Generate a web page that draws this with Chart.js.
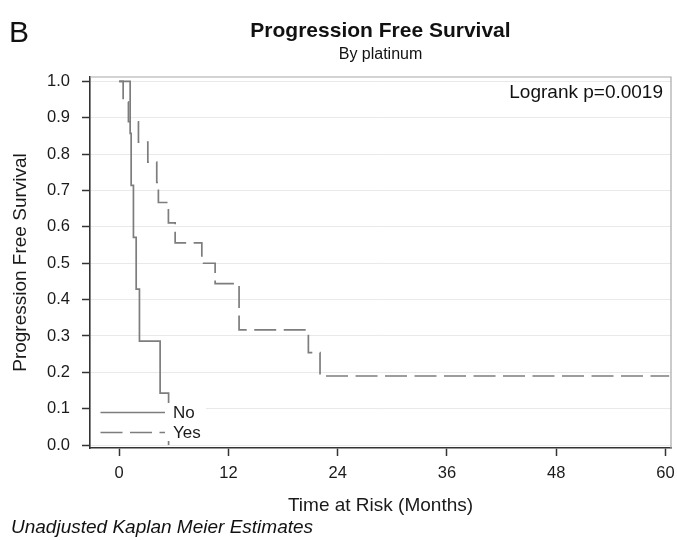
<!DOCTYPE html>
<html>
<head>
<meta charset="utf-8">
<title>Progression Free Survival</title>
<script src="https://cdn.jsdelivr.net/npm/chart.js@4.4.1/dist/chart.umd.min.js"></script>
<style>
  html, body { margin: 0; padding: 0; background: #fff; }
  #chart { display: block; }
</style>
</head>
<body>
<canvas id="chart" width="677" height="540"></canvas>
<script>
// Kaplan-Meier steps: time (months) and survival after each drop
const noTimes = [0, 1.21, 1.32, 1.57, 1.87, 2.23, 4.5, 5.43];
const noSurv = [1, 0.857, 0.714, 0.571, 0.429, 0.286, 0.143, 0];
const yesTimes = [0, 0.44, 1.02, 2.12, 3.15, 4.13, 4.31, 5.41, 6.15, 9.08, 10.54, 13.17, 20.78, 22.06, 60.4];
const yesSurv = [1, 0.944, 0.889, 0.833, 0.778, 0.722, 0.667, 0.611, 0.556, 0.5, 0.444, 0.317, 0.254, 0.19, 0.19];
const groupLabels = ['No', 'Yes'];
const xTicks = [0, 12, 24, 36, 48, 60];
const yTicks = [0, 0.1, 0.2, 0.3, 0.4, 0.5, 0.6, 0.7, 0.8, 0.9, 1.0];

const FONT = "'Liberation Sans', Arial, sans-serif";
const LINE = '#7d7d7d';

function toPoints(xs, ys) {
    return xs.map((x, i) => ({ x, y: ys[i] }));
}

// top and right sides of the plot frame
const framePlugin = {
    id: 'frame',
    beforeDatasetsDraw(chart) {
        const { ctx, chartArea: a } = chart;
        ctx.save();
        ctx.strokeStyle = '#a8a8a8';
        ctx.lineWidth = 1.2;
        ctx.beginPath();
        ctx.moveTo(a.left, a.top);
        ctx.lineTo(a.right, a.top);
        ctx.lineTo(a.right, a.bottom);
        ctx.stroke();
        ctx.restore();
    }
};

// legend sits inside the plot, bottom-left, on a white patch
const insideLegend = {
    id: 'insideLegend',
    afterDatasetsDraw(chart) {
        const { ctx } = chart;
        ctx.save();
        ctx.fillStyle = '#fff';
        ctx.fillRect(91, 403, 115, 38);
        chart.data.datasets.forEach((ds, i) => {
            const y = 412.5 + i * 20;
            ctx.strokeStyle = ds.borderColor;
            ctx.lineWidth = ds.borderWidth;
            ctx.setLineDash(ds.borderDash || []);
            ctx.beginPath();
            ctx.moveTo(100.5, y);
            ctx.lineTo(165, y);
            ctx.stroke();
            ctx.setLineDash([]);
            ctx.fillStyle = '#1a1a1a';
            ctx.font = '17px ' + FONT;
            ctx.textBaseline = 'middle';
            ctx.textAlign = 'left';
            ctx.fillText(ds.label, 173, y + 1);
        });
        ctx.restore();
    }
};

// panel letter, titles, p-value and footnote
const textPlugin = {
    id: 'texts',
    afterDraw(chart) {
        const { ctx, chartArea: a } = chart;
        const cx = (a.left + a.right) / 2;
        ctx.save();
        ctx.fillStyle = '#111';
        ctx.textBaseline = 'alphabetic';

        ctx.textAlign = 'left';
        ctx.font = '30px ' + FONT;
        ctx.fillText('B', 9, 42);

        ctx.textAlign = 'center';
        ctx.font = 'bold 21px ' + FONT;
        ctx.fillText('Progression Free Survival', cx, 37);
        ctx.font = '16px ' + FONT;
        ctx.fillText('By platinum', cx, 59);

        ctx.textAlign = 'right';
        ctx.font = '19px ' + FONT;
        ctx.fillText('Logrank p=0.0019', 663, 98);

        ctx.textAlign = 'left';
        ctx.font = 'italic 19px ' + FONT;
        ctx.fillText('Unadjusted Kaplan Meier Estimates', 11, 533);
        ctx.restore();
    }
};

new Chart(document.getElementById('chart'), {
    type: 'line',
    data: {
        datasets: [
            {
                label: groupLabels[0],
                data: toPoints(noTimes, noSurv),
                borderColor: LINE,
                borderWidth: 1.7,
                stepped: true,
                pointRadius: 0,
                fill: false
            },
            {
                label: groupLabels[1],
                data: toPoints(yesTimes, yesSurv),
                borderColor: LINE,
                borderWidth: 1.7,
                borderDash: [22, 7.5],
                stepped: true,
                pointRadius: 0,
                fill: false
            }
        ]
    },
    options: {
        responsive: false,
        animation: false,
        devicePixelRatio: 1,
        layout: { padding: { top: 77, right: 6, left: 0, bottom: 0 } },
        plugins: {
            legend: { display: false },
            tooltip: { enabled: false }
        },
        scales: {
            x: {
                type: 'linear',
                min: -3.2,
                max: 60.6,
                afterBuildTicks: (s) => { s.ticks = xTicks.map(v => ({ value: v })); },
                afterFit: (s) => { s.height = 92; s.paddingLeft = 0; s.paddingRight = 0; },
                ticks: {
                    autoSkip: false,
                    maxRotation: 0,
                    padding: 8,
                    color: '#1a1a1a',
                    font: { family: FONT, size: 16.5 }
                },
                grid: {
                    drawOnChartArea: false,
                    tickLength: 8,
                    tickColor: '#333',
                    tickWidth: 1.5
                },
                border: { color: '#333', width: 1.6 },
                title: {
                    display: true,
                    text: 'Time at Risk (Months)',
                    color: '#1a1a1a',
                    font: { family: FONT, size: 19 },
                    padding: { top: 0, bottom: 23 }
                }
            },
            y: {
                min: -0.008,
                max: 1.012,
                afterBuildTicks: (s) => { s.ticks = yTicks.map(v => ({ value: v })); },
                afterFit: (s) => { s.width = 90; s.paddingTop = 0; s.paddingBottom = 0; },
                ticks: {
                    padding: 12,
                    color: '#1a1a1a',
                    font: { family: FONT, size: 16.5 },
                    callback: (v) => v.toFixed(1)
                },
                grid: {
                    color: '#e9e9e9',
                    lineWidth: 1,
                    tickLength: 8,
                    tickColor: '#333',
                    tickWidth: 1.5
                },
                border: { color: '#333', width: 1.6 },
                title: {
                    display: true,
                    text: 'Progression Free Survival',
                    color: '#1a1a1a',
                    font: { family: FONT, size: 19 },
                    padding: { top: 9, bottom: 0 }
                }
            }
        }
    },
    plugins: [framePlugin, insideLegend, textPlugin]
});
</script>
</body>
</html>
